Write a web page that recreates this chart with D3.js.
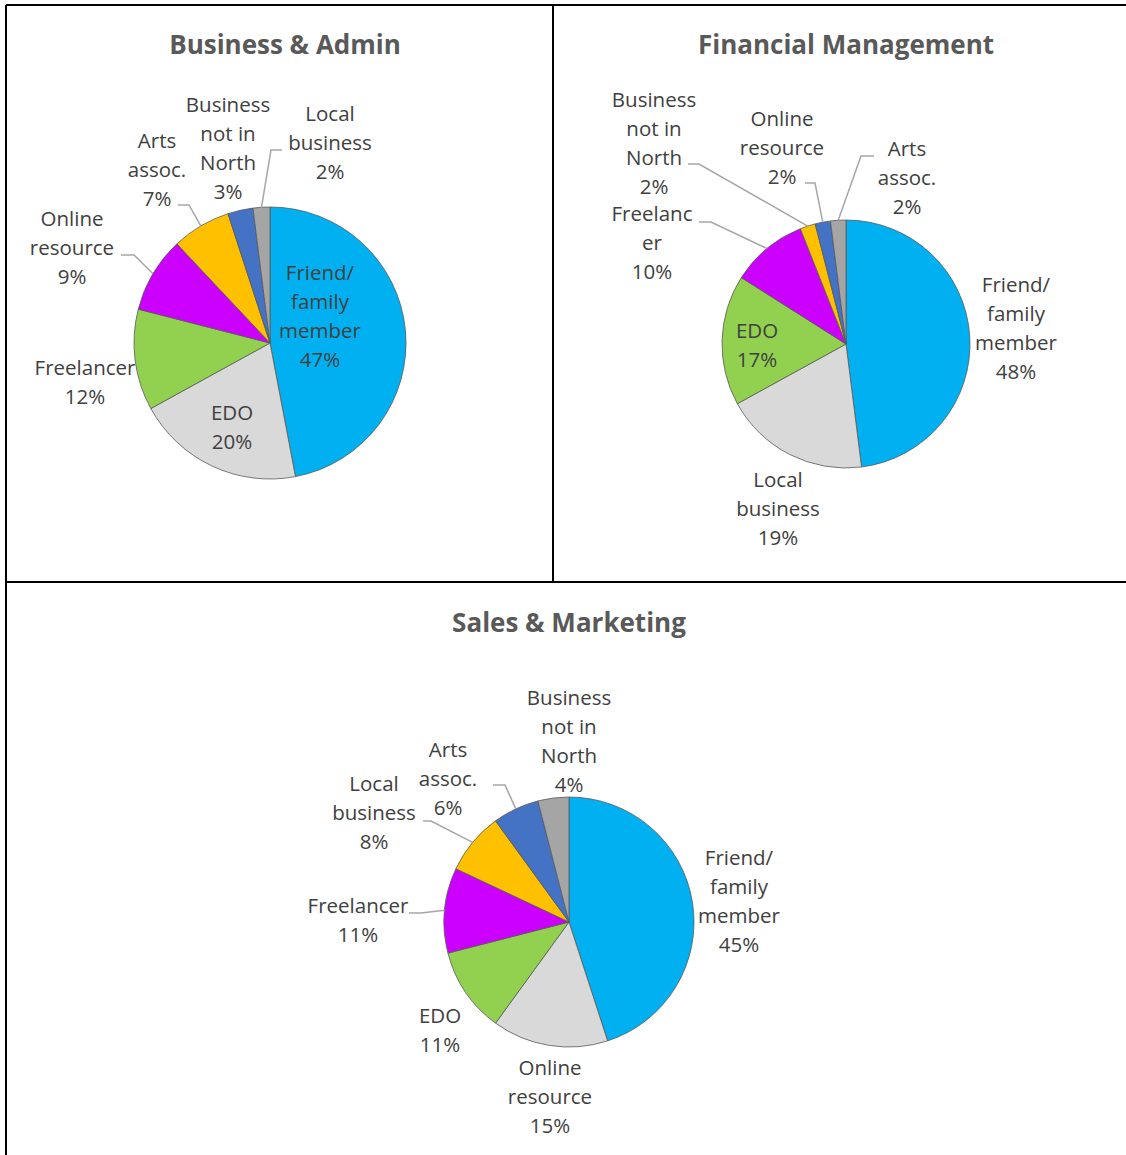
<!DOCTYPE html>
<html>
<head>
<meta charset="utf-8">
<script src="https://cdn.jsdelivr.net/npm/d3@7"></script>
<style>
  body { margin: 0; background: #fff; }
  svg { display: block; }
  .title { font-family: "Open Sans", sans-serif; font-weight: bold; fill: #595959; }
  .lbl { font-family: "Open Sans", sans-serif; fill: #404040; }
</style>
</head>
<body>
<svg id="chart" width="1126" height="1155"></svg>
<script>
// slice colours, in order of slice position (largest first, clockwise from 12 o'clock)
var colors = ["#00B0F0", "#D9D9D9", "#92D050", "#CC00FF", "#FFC000", "#4472C4", "#A5A5A5"];

/********** Data **********/
var titles = ["Business & Admin", "Financial Management", "Sales & Marketing"];

var bizAdminCats = ["Friend/\nfamily\nmember", "EDO", "Freelancer", "Online\nresource", "Arts\nassoc.", "Business\nnot in\nNorth", "Local\nbusiness"];
var bizAdminVals = [47, 20, 12, 9, 7, 3, 2];

var finMgmtCats = ["Friend/\nfamily\nmember", "Local\nbusiness", "EDO", "Freelanc\ner", "Business\nnot in\nNorth", "Online\nresource", "Arts\nassoc."];
var finMgmtVals = [48, 19, 17, 10, 2, 2, 2];

var salesMktCats = ["Friend/\nfamily\nmember", "Online\nresource", "EDO", "Freelancer", "Local\nbusiness", "Arts\nassoc.", "Business\nnot in\nNorth"];
var salesMktVals = [45, 15, 11, 11, 8, 6, 4];

/********** Layout **********/
// label block centre relative to pie centre, and optional leader [labelEdgeX, y, elbowX]
var layouts = [
  { cx: 270, cy: 343, r: 136, tx: 285, ty: 45,
    labels: [[50, -26.5], [-38, 84.5], [-185, 39.5], [-198, -95], [-113, -173], [-42, -194.5], [60, -200.5]],
    leaders: [null, null, null, [-149, -88, -136], [-92, -138, -81], null, [12, -193, 1]] },
  { cx: 846, cy: 344, r: 124, tx: 846, ty: 45,
    labels: [[170, -15.5], [-68, 164.5], [-89, 1.5], [-194, -101], [-192, -201], [-64, -196], [61, -166]],
    leaders: [null, null, null, [-147, -122, -135], [-158, -180, -147], [-41, -161, -31], [28, -188, 15]] },
  { cx: 569, cy: 922, r: 125, tx: 569, ty: 623,
    labels: [[170, -20.5], [-19, 175], [-129, 108.5], [-211, -1.5], [-195, -109], [-121, -143], [0, -180.5]],
    leaders: [null, null, null, [-160, -9, -148], [-146, -101, -138], [-76, -137, -64], null] }
];

var series = [
  { cats: bizAdminCats, vals: bizAdminVals },
  { cats: finMgmtCats, vals: finMgmtVals },
  { cats: salesMktCats, vals: salesMktVals }
];

var svg = d3.select("#chart");
var lineH = 29;

var pie = d3.pie().sort(null).value(function(d) { return d; });

series.forEach(function(s, k) {
    var L = layouts[k];
    var g = svg.append("g").attr("transform", "translate(" + L.cx + "," + L.cy + ")");
    var arc = d3.arc().innerRadius(0).outerRadius(L.r);
    var arcs = pie(s.vals);

    svg.append("text")
        .attr("class", "title")
        .attr("x", L.tx).attr("y", L.ty)
        .attr("dy", "0.36em")
        .attr("text-anchor", "middle")
        .style("font-size", "26px")
        .text(titles[k]);

    g.selectAll("path.slice")
        .data(arcs)
        .enter().append("path")
        .attr("class", "slice")
        .attr("d", arc)
        .attr("fill", function(d, i) { return colors[i]; })
        .attr("stroke", "#595959")
        .attr("stroke-width", 0.8);

    // leader lines: label edge -> elbow -> arc edge at mid angle
    arcs.forEach(function(d, i) {
        var ld = L.leaders[i];
        if (!ld) return;
        var mid = (d.startAngle + d.endAngle) / 2;
        var ex = Math.sin(mid) * L.r, ey = -Math.cos(mid) * L.r;
        g.append("polyline")
            .attr("points", [[ld[0], ld[1]], [ld[2], ld[1]], [ex, ey]].join(" "))
            .attr("fill", "none")
            .attr("stroke", "#A6A6A6")
            .attr("stroke-width", 1.5);
    });

    var lbl = g.selectAll("text.lbl")
        .data(arcs)
        .enter().append("text")
        .attr("class", "lbl")
        .attr("text-anchor", "middle")
        .style("font-size", "20.5px");

    lbl.each(function(d, i) {
        var lines = s.cats[i].split("\n").concat([d.data + "%"]);
        var p = L.labels[i];
        var y0 = p[1] - (lines.length - 1) * lineH / 2;
        var t = d3.select(this);
        lines.forEach(function(line, j) {
            t.append("tspan")
                .attr("x", p[0])
                .attr("y", y0 + j * lineH)
                .attr("dy", "0.36em")
                .text(line);
        });
    });
});

// panel borders
var borders = [[6, 5, 1126, 5], [6, 5, 6, 1155], [553, 5, 553, 582], [6, 582, 1126, 582]];
svg.selectAll("line.border")
    .data(borders)
    .enter().append("line")
    .attr("class", "border")
    .attr("x1", function(d) { return d[0]; })
    .attr("y1", function(d) { return d[1]; })
    .attr("x2", function(d) { return d[2]; })
    .attr("y2", function(d) { return d[3]; })
    .attr("stroke", "#000")
    .attr("stroke-width", 2);
</script>
</body>
</html>
